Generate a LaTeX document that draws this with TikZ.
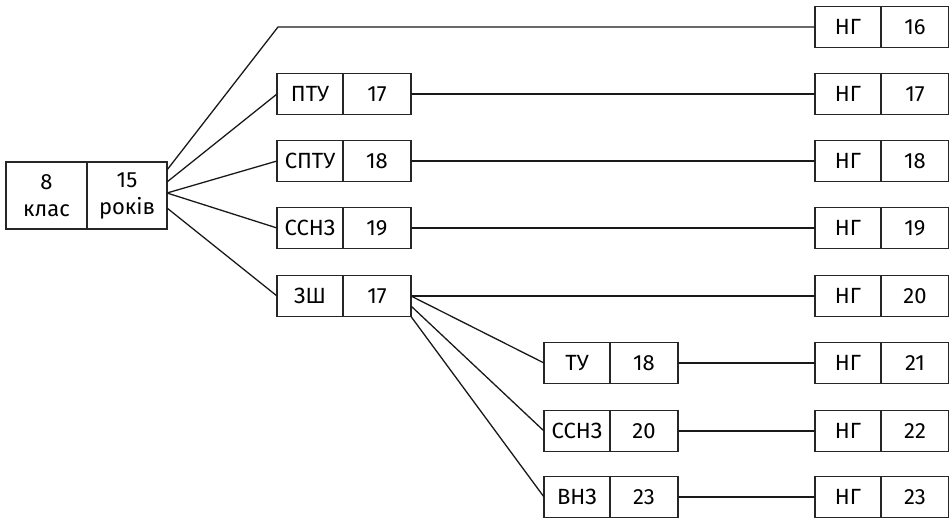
\documentclass[tikz,border=0pt]{standalone}
\usepackage{fontspec}
\setmainfont{Fira Sans}
\usetikzlibrary{positioning}
\tikzstyle{cell}=[draw=black!85, line width=0.9pt, outer sep=0pt, inner sep=0pt, minimum height=20.5pt, font=\fontsize{11}{13.5}\selectfont]
\tikzstyle{namecell}=[cell, minimum width=33pt]
\tikzstyle{agecell}=[cell, minimum width=34pt]
\tikzstyle{link}=[draw, line width=0.65pt, black!90]

\begin{document}
\begin{tikzpicture}[x=0.5pt, y=-0.5pt]
    \useasboundingbox (0,0) rectangle (949,519);

    % start box
    \node[cell, minimum width=40.5pt, minimum height=33.5pt, align=center] (cls) at (46.5,195.5) {8\\клас};
    \node[cell, minimum width=40pt, minimum height=33.5pt, align=center, right=0pt of cls] (age) {15\\років};

    % schools
    \foreach \x/\y/\name/\txt/\num in {310/94/ptu/ПТУ/17, 310/161/sptu/СПТУ/18, 310/228/ssnz/ССНЗ/19, 310/296/zsh/ЗШ/17,
                                       577/363/tu/ТУ/18, 577/431/vssnz/ССНЗ/20, 577/497/vnz/ВНЗ/23}
    {
        \node[namecell] (\name) at (\x,\y) {\txt};
        \node[agecell, right=0pt of \name] (\name-n) {\num};
    }

    % НГ column
    \foreach \y/\num in {27/16, 94/17, 161/18, 228/19, 296/20, 363/21, 431/22, 497/23}
    {
        \node[namecell] (ng\num) at (848,\y) {НГ};
        \node[agecell, right=0pt of ng\num] (ng\num-n) {\num};
    }

    % links
    \coordinate (bend) at (278,27);
    \draw[link] ([yshift=12.75pt]age.east) -- (bend) -- (ng16.west);
    \foreach \dest/\dy in {ptu/6.75, sptu/1.25, ssnz/1.25, zsh/-6.25}
        \draw[link] ([yshift=\dy pt]age.east) -- (\dest.west);

    \foreach \source/\dest in {ptu/ng17, sptu/ng18, ssnz/ng19, zsh/ng20, tu/ng21, vssnz/ng22, vnz/ng23}
        \draw[link] (\source-n.east) -- (\dest.west);

    \draw[link] (zsh-n.east) -- (tu.west);
    \draw[link] ([yshift=-5pt]zsh-n.east) -- (vssnz.west);
    \draw[link] (zsh-n.south east) -- (vnz.west);

\end{tikzpicture}
\end{document}
